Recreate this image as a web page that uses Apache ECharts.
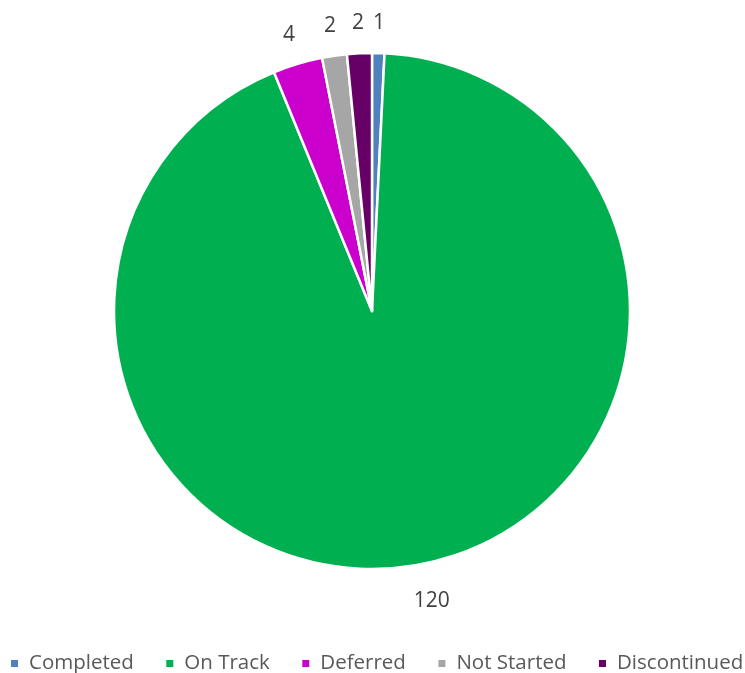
<!DOCTYPE html>
<html>
<head>
<meta charset="utf-8">
<script src="https://cdn.jsdelivr.net/npm/echarts@6/dist/echarts.min.js"></script>
<style>
  html, body { margin: 0; padding: 0; background: #fff; }
  #chart { width: 745px; height: 673px; }
</style>
</head>
<body>
<div id="chart"></div>
<script>
var categories = ['Completed', 'On Track', 'Deferred', 'Not Started', 'Discontinued'];
var counts = [1, 120, 4, 2, 2];
var colors = ['#4F81BD', '#00B050', '#CC00CC', '#A6A6A6', '#660066'];

var chart = echarts.init(document.getElementById('chart'));

var slices = categories.map(function (name, i) {
    return { name: name, value: counts[i], itemStyle: { color: colors[i] } };
});

var option = {
    animation: false,
    textStyle: { fontFamily: 'Open Sans' },
    legend: {
        data: categories,
        left: 9,
        width: 760,
        bottom: -1,
        padding: 0,
        icon: 'rect',
        itemWidth: 9,
        itemHeight: 9,
        itemGap: 30.5,
        textStyle: {
            fontSize: 20.5,
            color: '#595959',
            padding: [0, 0, 0, 5]
        }
    },
    series: [
        {
            // the actual pie
            type: 'pie',
            center: [372, 311],
            radius: [0, 258],
            startAngle: 90,
            clockwise: true,
            label: { show: false },
            labelLine: { show: false },
            itemStyle: { borderColor: '#fff', borderWidth: 2.5 },
            data: slices
        },
        {
            // invisible ring used only to place value labels outside
            type: 'pie',
            center: [372, 311],
            radius: [258, 312],
            startAngle: 90,
            clockwise: true,
            silent: true,
            itemStyle: { color: 'transparent' },
            label: {
                show: true,
                position: 'inside',
                formatter: '{c}',
                fontSize: 21,
                color: '#404040'
            },
            labelLine: { show: false },
            labelLayout: function (p) {
                if (p.dataIndex === 1) return { dx: 11, dy: 6 };
                return {};
            },
            data: categories.map(function (name, i) {
                return { name: name, value: counts[i] };
            })
        }
    ]
};

chart.setOption(option);
</script>
</body>
</html>
